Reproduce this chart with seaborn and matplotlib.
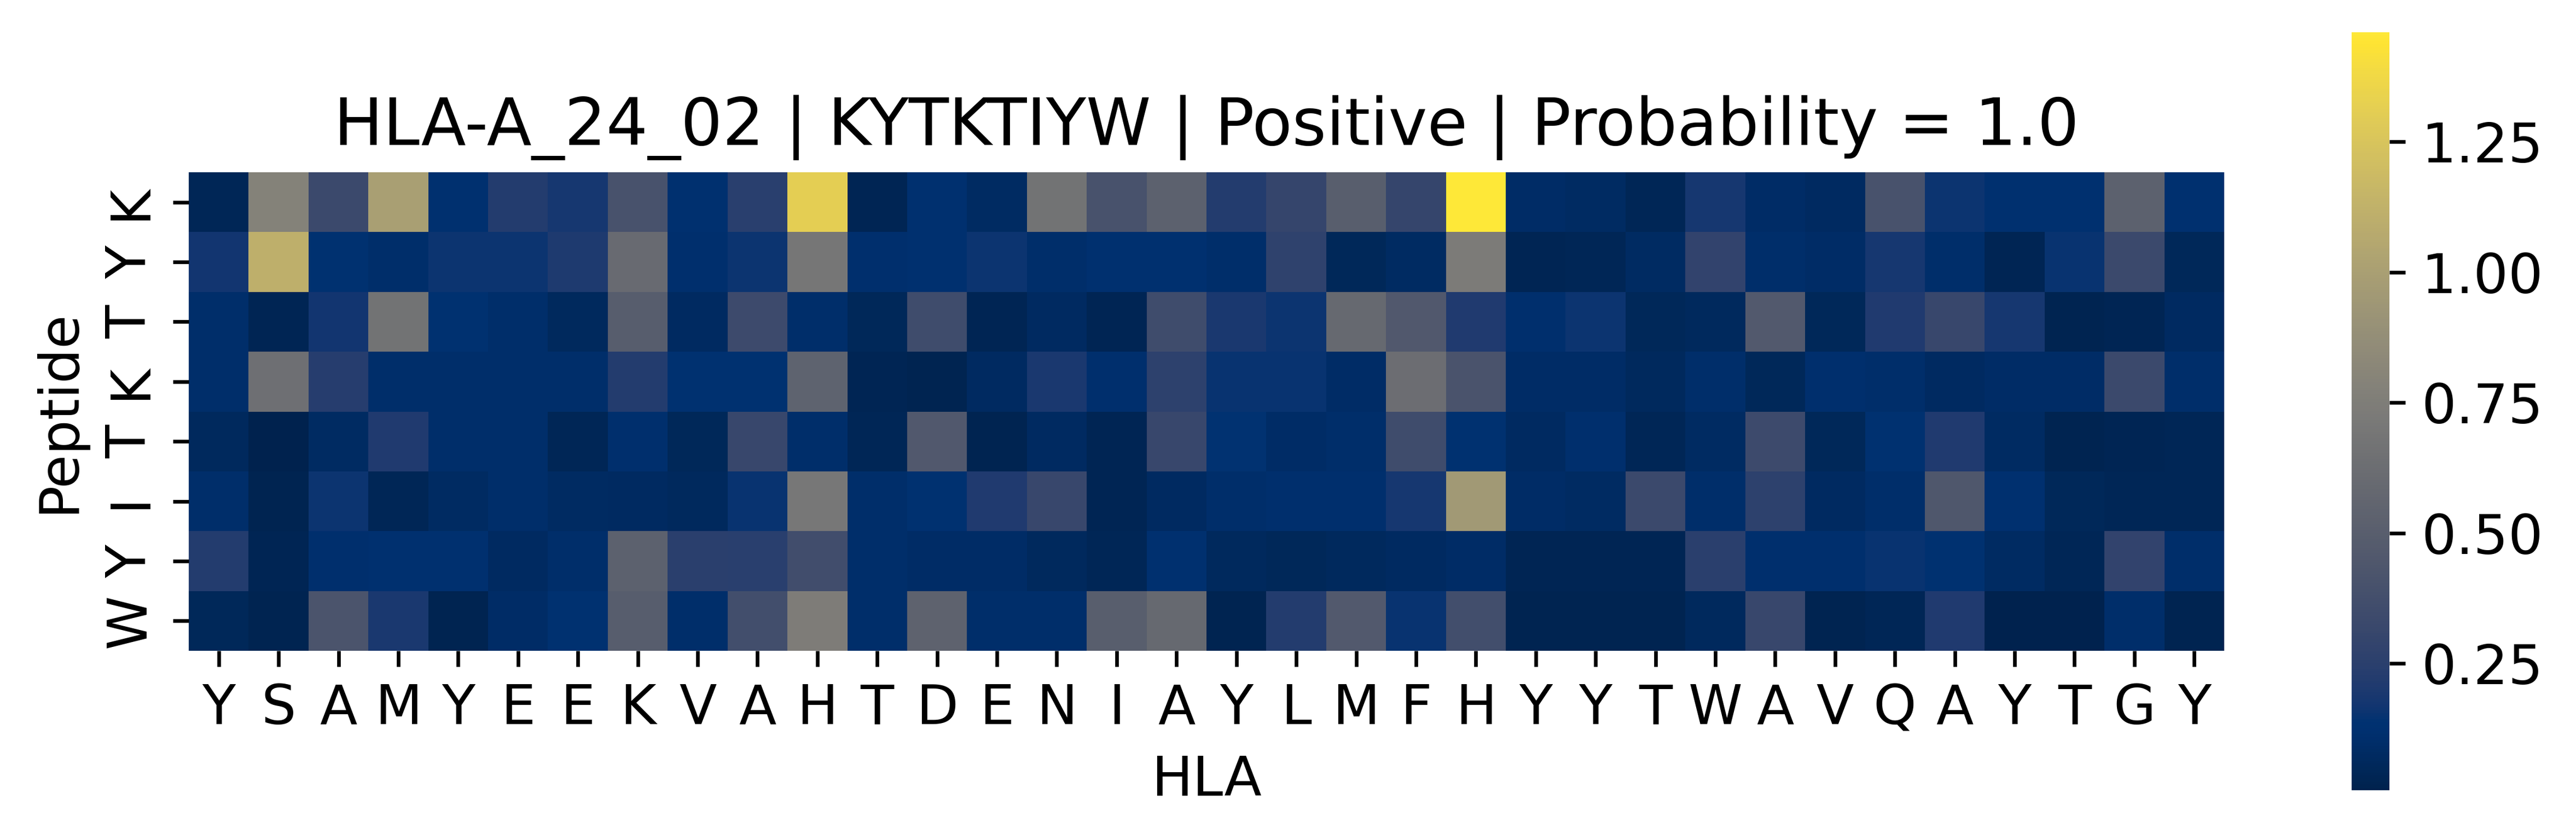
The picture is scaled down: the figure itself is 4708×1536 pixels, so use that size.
import numpy as np
import pandas as pd
import seaborn as sns
import matplotlib.pyplot as plt

plt.rcParams['font.size'] = 12

hla = list("YSAMYEEKVAHTDENIAYLMFHYYTWAVQAYTGY")
peptide = list("KYTKTIYW")

# attention values, one list per peptide residue (columns follow hla)
pos1_K = [0.04, 0.78, 0.33, 1.00, 0.12, 0.22, 0.18, 0.40, 0.12, 0.24, 1.31, 0.03,
          0.12, 0.08, 0.67, 0.40, 0.52, 0.22, 0.30, 0.50, 0.30, 1.46, 0.09, 0.08,
          0.04, 0.18, 0.09, 0.07, 0.40, 0.16, 0.12, 0.12, 0.52, 0.12]
pos2_Y = [0.17, 1.11, 0.13, 0.10, 0.16, 0.16, 0.20, 0.60, 0.11, 0.16, 0.69, 0.11,
          0.12, 0.16, 0.10, 0.12, 0.12, 0.10, 0.27, 0.05, 0.08, 0.73, 0.03, 0.04,
          0.08, 0.28, 0.10, 0.09, 0.18, 0.10, 0.03, 0.15, 0.33, 0.05]
pos3_T = [0.10, 0.03, 0.17, 0.67, 0.13, 0.10, 0.06, 0.49, 0.07, 0.34, 0.10, 0.05,
          0.35, 0.03, 0.07, 0.03, 0.35, 0.19, 0.16, 0.59, 0.45, 0.21, 0.11, 0.16,
          0.05, 0.06, 0.46, 0.05, 0.21, 0.31, 0.18, 0.02, 0.03, 0.07]
pos4_K = [0.10, 0.64, 0.23, 0.10, 0.10, 0.10, 0.10, 0.22, 0.13, 0.13, 0.54, 0.03,
          0.02, 0.07, 0.19, 0.11, 0.26, 0.15, 0.15, 0.09, 0.62, 0.41, 0.09, 0.09,
          0.06, 0.10, 0.05, 0.11, 0.10, 0.07, 0.09, 0.09, 0.33, 0.10]
pos5_T = [0.06, 0.007, 0.08, 0.21, 0.10, 0.10, 0.04, 0.11, 0.05, 0.31, 0.10, 0.04,
          0.45, 0.02, 0.07, 0.03, 0.31, 0.14, 0.09, 0.10, 0.35, 0.13, 0.07, 0.11,
          0.04, 0.08, 0.34, 0.05, 0.13, 0.21, 0.08, 0.02, 0.03, 0.04]
pos6_I = [0.10, 0.02, 0.16, 0.04, 0.08, 0.10, 0.08, 0.07, 0.06, 0.15, 0.70, 0.10,
          0.13, 0.21, 0.31, 0.03, 0.07, 0.10, 0.11, 0.11, 0.18, 0.95, 0.09, 0.08,
          0.33, 0.10, 0.26, 0.07, 0.10, 0.44, 0.12, 0.05, 0.04, 0.04]
pos7_Y = [0.22, 0.03, 0.11, 0.12, 0.12, 0.07, 0.10, 0.52, 0.25, 0.24, 0.36, 0.10,
          0.09, 0.09, 0.06, 0.04, 0.12, 0.06, 0.05, 0.06, 0.07, 0.09, 0.03, 0.03,
          0.03, 0.25, 0.11, 0.11, 0.15, 0.13, 0.08, 0.04, 0.28, 0.10]
pos8_W = [0.05, 0.02, 0.42, 0.19, 0.02, 0.09, 0.13, 0.49, 0.10, 0.37, 0.74, 0.10,
          0.53, 0.10, 0.10, 0.50, 0.59, 0.02, 0.22, 0.46, 0.15, 0.37, 0.02, 0.02,
          0.02, 0.06, 0.31, 0.02, 0.04, 0.21, 0.01, 0.01, 0.10, 0.02]

attn = pd.DataFrame([pos1_K, pos2_Y, pos3_T, pos4_K, pos5_T, pos6_I, pos7_Y, pos8_W])

fig = plt.figure(figsize=(4708 / 600, 1536 / 600))
ax = fig.add_axes([0.07328, 0.22526, 0.79014, 0.56966])
cax = fig.add_axes([0.91291, 0.05924, 0.014656, 0.90234])

sns.heatmap(attn, ax=ax, cbar_ax=cax, cmap='cividis',
            xticklabels=hla, yticklabels=peptide)

ax.set_title('HLA-A_24_02 | KYTKTIYW | Positive | Probability = 1.0')
ax.set_xlabel('HLA')
ax.set_ylabel('Peptide')
plt.setp(ax.get_xticklabels(), rotation=0)
plt.setp(ax.get_yticklabels(), rotation=90, va='center')

fig.savefig('out.png', dpi=600)
